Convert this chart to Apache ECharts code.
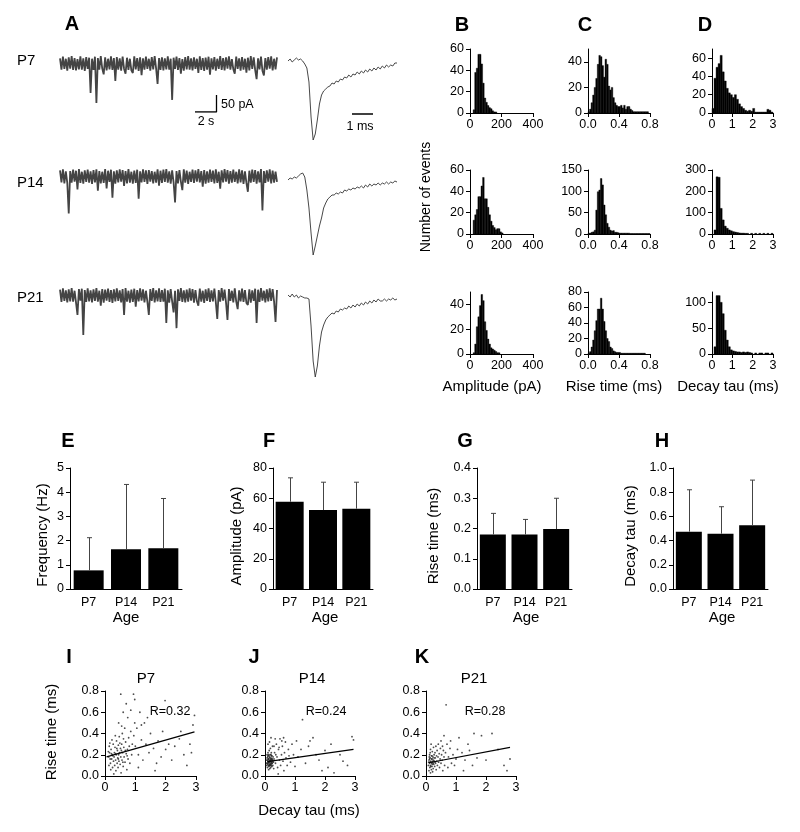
<!DOCTYPE html>
<html><head><meta charset="utf-8">
<script src="https://cdn.jsdelivr.net/npm/echarts@6/dist/echarts.min.js"></script>
<style>html,body{margin:0;padding:0;background:#fff}#c{width:800px;height:832px}</style>
</head><body><div id="c"></div>
<script>
// ---------------- DATA ----------------
const ages = ['P7', 'P14', 'P21'];

// Panel A: long recordings (pA, relative to baseline), ~20 s each
const traceP7 = [15,-18,20,-16,14,-21,18,-15,22,-19, 16,-20,13,-17,21,-18,15,-22,19,-16, 17,-87,14,-19,20,-116,16,-18,22,-15,
 -32,18,-20,14,-17,21,-19,16,-51,19, -18,15,-21,20,-16,-30,17,-19,14,-20, -28,21,-17,16,-22,18,-34,15,-18,20,
 -16,14,-21,19,-17,22,-15,-60,16,-19, 18,-20,15,-17,21,-18,14,-107,17,-16, 20,-19,16,-30,13,-21,19,-17,22,-18,
 15,-20,18,-16,14,-28,21,-19,16,-22, 17,-18,20,-33,15,-17,19,-21,14,-16, 22,-19,16,-20,18,-15,21,-18,13,-17,
 -30,20,-16,15,-21,19,-18,14,-27,17, -20,22,-16,18,-19,-46,15,-17,20,-21, -35,16,-18,19,-15,21,-20,14,-17,18];
const traceP14 = [18,-17,21,-20,15,-19,-109,16,-18,20, -15,17,-38,22,-19,14,-21,18,-16,20, -18,15,-22,19,-17,21,-42,16,-20,14,
 -19,22,-35,17,-16,20,-62,15,-21,18, -17,21,-15,19,-28,16,-20,22,-18,14, -21,17,-19,20,-65,15,-17,21,-16,18,
 -22,19,-15,16,-20,14,-18,21,-27,17, -19,20,-16,22,-18,15,-21,18,-17,-76, 16,-20,19,-15,-40,21,-18,17,-22,14,
 -16,20,-19,18,-15,22,-17,16,-30,19, -21,15,-18,20,-16,17,-20,21,-19,14, -36,18,-17,22,-15,19,-21,16,-18,20,
 -16,14,-20,21,-17,18,-22,15,-19,-45, 17,-18,20,-16,19,-21,15,-17,22,-100, 16,-19,18,-15,21,-20,17,-18,14,-16];
const traceP21 = [17,-19,21,-16,15,-20,18,-17,22,-18, 14,-21,-57,19,-15,20,-116,16,-19,21, -17,15,-20,18,-16,22,-18,14,-30,19,
 -21,17,-15,20,-19,16,-22,18,-17,21, -16,15,-20,19,-57,22,-18,14,-21,17, -19,20,-33,16,-17,21,-15,18,-20,14,
 -18,-57,19,-16,22,-20,15,-17,21,-19, 16,-18,20,-81,15,-21,19,-17,-50,14, -96,18,-16,22,-19,15,-20,17,-18,21,
 -15,19,-21,16,-17,-30,20,-18,14,-22, 18,-16,21,-19,15,-17,20,-20,-69,16, -18,22,-15,17,-21,-72,19,-16,14,-20,
 21,-18,-40,15,-17,20,-19,16,-22,-28, 18,-21,15,-16,20,-81,17,-19,22,-15, 14,-20,18,-17,21,-16,19,-18,-78,16];

// Panel A: averaged minis (0.1 ms steps, 0 - 5.2 ms)
const miniP7 = [1,3,0,2,4,2,3,1,-2,-6,-20,-55,-78,-72,-58,-42,-33,-29,-27,-25,-24,-21,-22,-19,-20,-17,-18,-15,-16,-13,-15,-12,-13,-10,-12,-9,-11,-8,-10,-7,-9,-6,-8,-5,-7,-4,-6,-3,-5,-3,-4,-1,-1];
const miniP14 = [-2,0,-1,1,0,2,4,5,1,-12,-30,-55,-77,-68,-58,-48,-40,-30,-25,-21,-19,-17,-17,-15,-16,-14,-15,-12,-13,-11,-12,-10,-11,-9,-10,-8,-10,-7,-9,-6,-8,-6,-7,-5,-7,-5,-6,-4,-6,-4,-5,-3,-4];
const miniP21 = [1,-1,2,-1,1,-2,0,-1,-2,-2,-3,-30,-65,-81,-70,-50,-36,-29,-24,-21,-19,-17,-18,-15,-16,-13,-14,-12,-13,-10,-12,-9,-11,-8,-10,-7,-9,-6,-8,-5,-7,-4,-6,-3,-5,-5,-3,-5,-3,-4,-2,-4,-3];

// Scale bars
const barTimeS = [0, 2, 2];     // s
const barAmpPA = [0, 0, 50];    // pA
const barTimeMs = [0, 1];       // ms

// Panels B-D: histograms (counts). Bin widths: amplitude 10 pA, rise 0.02 ms, decay 0.1 ms
const ampBinWidth = 10, riseBinWidth = 0.02, decayBinWidth = 0.1;
const ampP7  = [0,0,3,38,42,55,55,46,28,14,10,7,5,4,2,1,1];
const ampP14 = [0,0,13,18,23,35,35,45,53,33,33,25,18,12,8,6,4,5,5,2,1];
const ampP21 = [0,0,1,8,22,30,39,48,43,26,19,12,8,5,4,3,2,1,1];
const riseP7  = [1,3,8,14,20,27,38,45,44,37,28,42,38,21,18,20,12,8,6,5,5,6,4,6,3,5,5,3,2,1,1,1,1,1,1,1,1,1,1,0];
const riseP14 = [2,2,4,5,9,56,99,103,130,115,68,45,25,16,9,7,8,4,4,3,2,2,2,2,2,2,2,1,1,1,1,1,1,1,1,1,1,1,1,1];
const riseP21 = [1,3,9,18,30,43,58,58,72,58,42,30,20,16,9,7,4,3,2,2,2,1,1,1,1,1,1,1,1,1,1,1,1,1,1,1,1,0,0,0];
const decayP7  = [5,38,50,54,63,45,35,27,22,20,17,20,15,10,7,5,3,2,3,2,5,1,1,1,1,1,1,4,3,1];
const decayP14 = [0,19,268,266,120,66,37,27,19,15,11,9,7,5,4,4,3,3,0,3,0,3,0,3,0,3,0,3,0,3];
const decayP21 = [0,14,113,113,100,78,46,27,14,8,6,5,4,4,3,4,3,4,3,2,0,2,0,2,2,0,2,2,0,2];

// Panels E-H: mean and SD per age
const freqMean = [0.77, 1.64, 1.68],   freqSD = [1.35, 2.68, 2.06];
const ampMean  = [57.7, 52.2, 53.1],   ampSD  = [15.8, 18.4, 17.5];
const riseMean = [0.18, 0.18, 0.198],  riseSD = [0.07, 0.05, 0.102];
const decayMean= [0.474, 0.457, 0.526],decaySD= [0.346, 0.223, 0.374];

// Tick values
const ticksAmpX = [0,200,400], ticksRiseX = [0,0.4,0.8], ticksDecayX = [0,1,2,3];
const ticksH60 = [0,20,40,60], ticksH40 = [0,20,40], ticksH150 = [0,50,100,150], ticksH300 = [0,100,200,300];
const ticksH80 = [0,20,40,60,80], ticksH100 = [0,50,100];
const ticksFreq = [0,1,2,3,4,5], ticksAmpY = [0,20,40,60,80], ticksRiseY = [0,0.1,0.2,0.3,0.4], ticksDecayY = [0,0.2,0.4,0.6,0.8,1.0];
const ticksScatX = [0,1,2,3], ticksScatY = [0,0.2,0.4,0.6,0.8];

// Panels I-K: decay tau (ms) vs rise time (ms)
const scatP7 = [[0.12,0.18],[0.15,0.22],[0.18,0.12],[0.2,0.25],[0.22,0.16],[0.24,0.2],[0.25,0.08],[0.27,0.3],[0.28,0.14],[0.3,0.18],[0.31,0.22],[0.32,0.1],[0.33,0.27],[0.35,0.15],[0.36,0.05],[0.37,0.2],[0.38,0.33],[0.4,0.12],[0.41,0.24],[0.42,0.17],[0.43,0.08],[0.44,0.29],[0.45,0.2],[0.46,0.14],[0.47,0.37],[0.48,0.22],[0.5,0.11],[0.51,0.26],[0.52,0.18],[0.53,0.03],[0.55,0.3],[0.56,0.15],[0.57,0.4],[0.58,0.22],[0.6,0.09],[0.62,0.27],[0.63,0.18],[0.65,0.45],[0.66,0.13],[0.68,0.32],[0.7,0.21],[0.72,0.06],[0.74,0.25],[0.76,0.16],[0.78,0.36],[0.8,0.28],[0.82,0.12],[0.85,0.42],[0.88,0.2],[0.9,0.3],[0.14,0.28],[0.19,0.06],[0.23,0.34],[0.29,0.02],[0.34,0.38],[0.39,0.26],[0.26,0.19],[0.21,0.21],[0.17,0.16],[0.13,0.1],[0.11,0.23],[0.16,0.31],[0.35,0.21],[0.44,0.16],[0.49,0.31],[0.54,0.24],[0.59,0.13],[0.61,0.35],[0.67,0.24],[0.73,0.19],
 [0.52,0.77],[0.94,0.77],[0.98,0.72],[1.98,0.71],[0.6,0.6],[0.75,0.55],[1.15,0.6],[1.3,0.5],[1.4,0.55],[1.2,0.48],[0.45,0.5],[0.55,0.47],[0.85,0.62],[1.05,0.45],[0.95,0.38],[1.0,0.28],[1.1,0.2],[1.2,0.34],[1.25,0.15],[1.35,0.3],[1.45,0.22],[1.5,0.4],[1.6,0.26],[1.7,0.12],[1.75,0.33],[1.85,0.18],[1.9,0.42],[2.0,0.25],[2.1,0.3],[2.2,0.15],[2.3,0.28],[2.45,0.35],[2.6,0.2],[2.7,0.1],[2.8,0.3],[2.85,0.22],[2.95,0.57],[2.9,0.48],[1.55,0.62],[0.7,0.68],[1.65,0.05],[1.1,0.08],[2.5,0.42],[0.98,0.5]];
const scatP14 = [[0.05,0.1],[0.06,0.15],[0.07,0.2],[0.08,0.12],[0.08,0.08],[0.09,0.18],[0.1,0.14],[0.1,0.22],[0.11,0.1],[0.11,0.16],[0.12,0.06],[0.12,0.13],[0.13,0.19],[0.13,0.09],[0.14,0.15],[0.14,0.24],[0.15,0.11],[0.15,0.17],[0.16,0.07],[0.16,0.13],[0.17,0.2],[0.17,0.1],[0.18,0.15],[0.18,0.26],[0.19,0.12],[0.19,0.08],[0.2,0.17],[0.2,0.14],[0.21,0.1],[0.21,0.22],[0.22,0.13],[0.22,0.16],[0.23,0.09],[0.23,0.19],[0.24,0.12],[0.25,0.15],[0.25,0.28],[0.26,0.1],[0.27,0.18],[0.28,0.13],[0.29,0.07],[0.3,0.16],[0.06,0.12],[0.07,0.17],[0.09,0.11],[0.1,0.19],[0.12,0.16],[0.13,0.12],[0.15,0.14],[0.16,0.18],[0.17,0.14],[0.19,0.16],[0.2,0.11],[0.22,0.19],[0.24,0.16],[0.26,0.14],[0.11,0.13],[0.14,0.1],[0.18,0.11],[0.21,0.15],[0.08,0.15],[0.12,0.2],[0.16,0.1],[0.2,0.2],[0.23,0.12],
 [0.32,0.22],[0.35,0.12],[0.38,0.3],[0.4,0.18],[0.42,0.08],[0.45,0.25],[0.48,0.15],[0.5,0.35],[0.52,0.1],[0.55,0.2],[0.58,0.28],[0.6,0.14],[0.63,0.05],[0.65,0.22],[0.68,0.32],[0.7,0.17],[0.74,0.1],[0.78,0.25],[0.8,0.19],[0.85,0.13],[0.9,0.3],[0.95,0.2],[1.0,0.09],[0.34,0.35],[0.44,0.02],[0.56,0.33],[0.62,0.36],[0.3,0.28],[0.36,0.2],[0.47,0.27],
 [1.25,0.53],[1.5,0.33],[1.6,0.36],[1.2,0.25],[1.1,0.18],[1.35,0.12],[1.45,0.28],[1.7,0.2],[1.8,0.15],[2.0,0.24],[2.1,0.08],[2.3,0.03],[2.5,0.2],[2.6,0.14],[2.9,0.37],[2.95,0.34],[2.2,0.3],[1.9,0.05],[1.05,0.33],[2.75,0.1],[0.15,0.32],[0.2,0.36],[0.1,0.3]];
const scatP21 = [[0.08,0.1],[0.1,0.15],[0.1,0.05],[0.12,0.2],[0.12,0.12],[0.13,0.08],[0.14,0.17],[0.15,0.25],[0.15,0.1],[0.16,0.14],[0.17,0.3],[0.18,0.06],[0.18,0.19],[0.19,0.12],[0.2,0.16],[0.2,0.09],[0.21,0.23],[0.22,0.13],[0.23,0.18],[0.24,0.07],[0.25,0.15],[0.25,0.27],[0.26,0.11],[0.27,0.2],[0.28,0.14],[0.29,0.09],[0.3,0.22],[0.31,0.17],[0.32,0.12],[0.33,0.28],[0.34,0.06],[0.35,0.19],[0.36,0.14],[0.37,0.24],[0.38,0.1],[0.4,0.18],[0.41,0.3],[0.42,0.13],[0.44,0.21],[0.45,0.08],[0.47,0.16],[0.48,0.26],[0.5,0.12],[0.52,0.2],[0.54,0.15],[0.56,0.05],[0.58,0.24],[0.6,0.18],[0.62,0.1],[0.65,0.22],[0.11,0.18],[0.13,0.13],[0.14,0.22],[0.16,0.09],[0.19,0.16],[0.21,0.11],[0.23,0.14],[0.27,0.17],[0.3,0.13],[0.12,0.16],[0.17,0.13],[0.2,0.19],[0.24,0.12],[0.09,0.13],[0.15,0.03],[0.22,0.04],
 [0.67,0.67],[0.6,0.38],[0.5,0.33],[0.7,0.3],[0.75,0.18],[0.8,0.26],[0.85,0.12],[0.9,0.2],[0.95,0.1],[1.0,0.16],[1.1,0.36],[1.2,0.22],[1.3,0.15],[1.4,0.3],[1.45,0.24],[1.55,0.1],[1.6,0.4],[1.7,0.17],[1.85,0.38],[2.0,0.15],[2.2,0.4],[2.4,0.25],[2.6,0.1],[2.7,0.05],[2.8,0.16],[1.25,0.05],[0.73,0.08],[0.82,0.33],[1.05,0.25],[0.55,0.28]];
const fitP7  = [[0.05,0.18],[2.95,0.415]];
const fitP14 = [[0.08,0.135],[2.95,0.25]];
const fitP21 = [[0.09,0.125],[2.8,0.27]];
const rValues = ['R=0.32', 'R=0.24', 'R=0.28'];

// ---------------- BUILD ----------------
const FONT = '"Liberation Sans", Arial, Helvetica, sans-serif';
const grids = [], xAxes = [], yAxes = [], series = [], graphics = [];
const axLine = {color: '#000', width: 1};

function addGrid(box, xa, ya) {
  const gi = grids.length;
  grids.push(Object.assign({containLabel: false}, box));
  xAxes.push(Object.assign({gridIndex: gi}, xa));
  yAxes.push(Object.assign({gridIndex: gi}, ya));
  return gi;
}
function valAxis(min, max, ticks, fmt, margin) {
  const lab = {show: true, customValues: ticks, color: '#000', fontSize: 12.5, fontFamily: FONT, margin: margin};
  if (fmt) lab.formatter = fmt;
  return {type: 'value', min: min, max: max,
    axisLine: {show: true, onZero: false, lineStyle: axLine},
    axisTick: {show: true, length: 4, lineStyle: axLine, customValues: ticks},
    axisLabel: lab, splitLine: {show: false}};
}
const f1 = v => v.toFixed(1);

function trace(box, vals, ymin, ymax, color, w) {
  const gi = addGrid(box,
    {type: 'category', show: false, boundaryGap: false, data: vals.map((_, i) => i)},
    {type: 'value', show: false, min: ymin, max: ymax});
  series.push({type: 'line', xAxisIndex: gi, yAxisIndex: gi, data: vals, symbol: 'none',
    lineStyle: {color: color, width: w, join: 'bevel'}});
}
function hist(box, xmax, xticks, xfmt, ymax, yticks, binW, counts) {
  const gi = addGrid(box, valAxis(0, xmax, xticks, xfmt, 5), valAxis(0, ymax, yticks, null, 6));
  series.push({type: 'custom', coordinateSystem: 'cartesian2d', xAxisIndex: gi, yAxisIndex: gi,
    data: counts.map((c, i) => [i * binW, (i + 1) * binW, c]),
    encode: {x: [0, 1], y: 2},
    renderItem: (p, api) => {
      if (!api.value(2)) return null;
      const a = api.coord([api.value(0), 0]), b = api.coord([api.value(1), api.value(2)]);
      return {type: 'rect', shape: {x: a[0], y: b[1], width: b[0] - a[0], height: a[1] - b[1]},
        style: {fill: '#000', stroke: '#000', lineWidth: 0.4}};
    }});
}
function barChart(box, ymax, yticks, yfmt, means, sds, bw) {
  const gi = addGrid(box,
    {type: 'category', data: ages, axisLine: {show: true, lineStyle: axLine}, axisTick: {show: false},
     axisLabel: {color: '#000', fontSize: 12.5, fontFamily: FONT, margin: 7}},
    valAxis(0, ymax, yticks, yfmt, 6));
  series.push({type: 'bar', xAxisIndex: gi, yAxisIndex: gi, data: means, barWidth: bw, itemStyle: {color: '#000'}});
  series.push({type: 'custom', coordinateSystem: 'cartesian2d', xAxisIndex: gi, yAxisIndex: gi,
    data: means.map((m, i) => [i, m, m + sds[i]]), encode: {x: 0, y: [1, 2]}, z: 3,
    renderItem: (p, api) => {
      const lo = api.coord([api.value(0), api.value(1)]), hi = api.coord([api.value(0), api.value(2)]);
      const x = Math.round(hi[0]) + 0.5;
      return {type: 'group', children: [
        {type: 'line', shape: {x1: x, y1: lo[1], x2: x, y2: hi[1]}, style: {stroke: '#444', lineWidth: 1}},
        {type: 'line', shape: {x1: x - 2.5, y1: hi[1], x2: x + 2.5, y2: hi[1]}, style: {stroke: '#444', lineWidth: 1}}]};
    }});
}
function scat(box, pts, fit) {
  const gi = addGrid(box, valAxis(0, 3, ticksScatX, null, 5), valAxis(0, 0.8, ticksScatY, f1, 6));
  series.push({type: 'scatter', xAxisIndex: gi, yAxisIndex: gi, data: pts, symbolSize: 1.8,
    itemStyle: {color: '#222'}});
  series.push({type: 'line', xAxisIndex: gi, yAxisIndex: gi, data: fit, symbol: 'none',
    lineStyle: {color: '#000', width: 1.2}});
}
function T(x, y, text, size, extra) {
  graphics.push(Object.assign({type: 'text', x: x, y: y,
    style: Object.assign({text: text, fontSize: size, fontFamily: FONT, fill: '#000',
      align: 'center', verticalAlign: 'middle', textAlign: 'center', textVerticalAlign: 'middle'},
      (extra && extra.style) || {})}, (extra && extra.el) || {}));
}

// Panel A
const K = 0.34; // px per pA for long traces
trace({left: 60, top: 63.5 - 25 * K, width: 217, height: 155 * K}, traceP7, -130, 25, '#444', 1.8);
trace({left: 60, top: 176.5 - 25 * K, width: 217, height: 155 * K}, traceP14, -130, 25, '#444', 1.8);
trace({left: 60, top: 295.5 - 25 * K, width: 217, height: 155 * K}, traceP21, -130, 25, '#444', 1.8);
trace({left: 288, top: 52, width: 109, height: 95}, miniP7, -85, 10, '#333', 0.9);
trace({left: 288, top: 168, width: 109, height: 95}, miniP14, -85, 10, '#333', 0.9);
trace({left: 288, top: 286, width: 109, height: 95}, miniP21, -85, 10, '#333', 0.9);
// scale bars
let gi = addGrid({left: 195, top: 95, width: 21.5, height: 17},
  {type: 'value', show: false, min: 0, max: 2}, {type: 'value', show: false, min: 0, max: 50});
series.push({type: 'line', xAxisIndex: gi, yAxisIndex: gi, data: barTimeS.map((t, i) => [t, barAmpPA[i]]),
  symbol: 'none', lineStyle: {color: '#000', width: 1.3}});
gi = addGrid({left: 352, top: 112, width: 21, height: 4},
  {type: 'value', show: false, min: 0, max: 1}, {type: 'value', show: false, min: -1, max: 1});
series.push({type: 'line', xAxisIndex: gi, yAxisIndex: gi, data: barTimeMs.map(t => [t, 0]),
  symbol: 'none', lineStyle: {color: '#000', width: 1.3}});

// Panels B-D
const rowsH = [
  {top: 49, h: 64, amp: [60, ticksH60], rise: [50, ticksH40], decay: [70, ticksH60]},
  {top: 170, h: 64, amp: [60, ticksH60], rise: [150, ticksH150], decay: [300, ticksH300]},
  {top: 292, h: 62, amp: [50, ticksH40], rise: [80, ticksH80], decay: [120, ticksH100]}];
const ampData = [ampP7, ampP14, ampP21], riseData = [riseP7, riseP14, riseP21], decayData = [decayP7, decayP14, decayP21];
rowsH.forEach((r, k) => {
  hist({left: 470, top: r.top, width: 63, height: r.h}, 400, ticksAmpX, null, r.amp[0], r.amp[1], ampBinWidth, ampData[k]);
  hist({left: 588, top: r.top, width: 62, height: r.h}, 0.8, ticksRiseX, f1, r.rise[0], r.rise[1], riseBinWidth, riseData[k]);
  hist({left: 712, top: r.top, width: 61, height: r.h}, 3, ticksDecayX, null, r.decay[0], r.decay[1], decayBinWidth, decayData[k]);
});

// Panels E-H
barChart({left: 70, top: 468, width: 112, height: 121}, 5, ticksFreq, null, freqMean, freqSD, 30);
barChart({left: 273, top: 468, width: 100, height: 121}, 80, ticksAmpY, null, ampMean, ampSD, 28);
barChart({left: 477, top: 468, width: 95, height: 121}, 0.4, ticksRiseY, f1, riseMean, riseSD, 26);
barChart({left: 673, top: 468, width: 95, height: 121}, 1.0, ticksDecayY, f1, decayMean, decaySD, 26);

// Panels I-K
scat({left: 105, top: 691, width: 91, height: 85}, scatP7, fitP7);
scat({left: 265, top: 691, width: 90, height: 85}, scatP14, fitP14);
scat({left: 426, top: 691, width: 90, height: 85}, scatP21, fitP21);

// Texts
const B = {style: {fontWeight: 'bold'}};
[['A', 72, 24], ['B', 462, 25], ['C', 585, 25], ['D', 705, 25], ['E', 68, 441], ['F', 269, 441],
 ['G', 465, 441], ['H', 662, 441], ['I', 69, 657], ['J', 254, 657], ['K', 422, 657]]
  .forEach(l => T(l[1], l[2], l[0], 20, B));
T(17, 61, 'P7', 15, {style: {align: 'left', textAlign: 'left'}});
T(17, 183, 'P14', 15, {style: {align: 'left', textAlign: 'left'}});
T(17, 298, 'P21', 15, {style: {align: 'left', textAlign: 'left'}});
T(221, 105, '50 pA', 12.5, {style: {align: 'left', textAlign: 'left'}});
T(206, 122, '2 s', 12.5);
T(360, 127, '1 ms', 12.5);
T(426, 197, 'Number of events', 14, {el: {rotation: Math.PI / 2}});
T(492, 387, 'Amplitude (pA)', 15);
T(614, 387, 'Rise time (ms)', 15);
T(728, 387, 'Decay tau (ms)', 15);
T(43, 535, 'Frequency (Hz)', 15, {el: {rotation: Math.PI / 2}});
T(237, 536, 'Amplitude (pA)', 15, {el: {rotation: Math.PI / 2}});
T(434, 536, 'Rise time (ms)', 15, {el: {rotation: Math.PI / 2}});
T(631, 536, 'Decay tau (ms)', 15, {el: {rotation: Math.PI / 2}});
[126, 325, 526, 722].forEach(x => T(x, 618, 'Age', 15));
T(146, 679, 'P7', 15); T(312, 679, 'P14', 15); T(474, 679, 'P21', 15);
T(170, 712, rValues[0], 12.5); T(326, 712, rValues[1], 12.5); T(485, 712, rValues[2], 12.5);
T(52, 732, 'Rise time (ms)', 15, {el: {rotation: Math.PI / 2}});
T(309, 811, 'Decay tau (ms)', 15);

const chart = echarts.init(document.getElementById('c'), null, {renderer: 'canvas'});
chart.setOption({animation: false, backgroundColor: '#fff',
  grid: grids, xAxis: xAxes, yAxis: yAxes, series: series, graphic: {elements: graphics}});
</script></body></html>
